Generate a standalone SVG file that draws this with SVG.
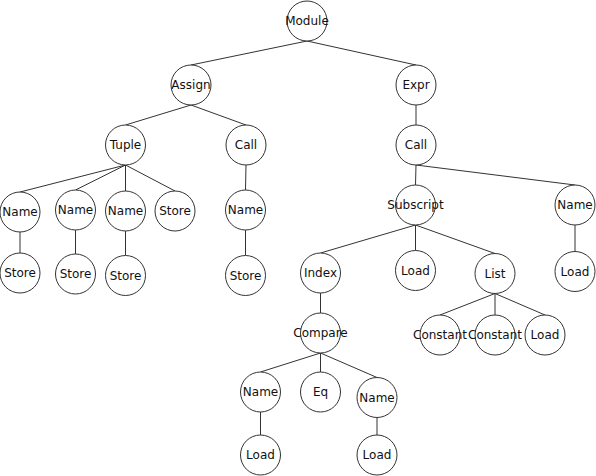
<svg xmlns="http://www.w3.org/2000/svg" width="596" height="476" viewBox="0 0 596 476">
<style>
.n circle{fill:#fff;stroke:#333;stroke-width:1}
.n text{font-family:"DejaVu Sans",sans-serif;font-size:12px;fill:#111;text-anchor:middle;dominant-baseline:central}
#edges line{stroke:#333;stroke-width:1}
</style>
<rect width="596" height="476" fill="#fff"/>
<g id="edges">
<line x1="307" y1="41" x2="191" y2="65"/>
<line x1="307" y1="41" x2="416" y2="65"/>
<line x1="191" y1="105" x2="125.5" y2="125"/>
<line x1="191" y1="105" x2="246" y2="125"/>
<line x1="416" y1="105" x2="416" y2="125"/>
<line x1="125.5" y1="165" x2="20" y2="192"/>
<line x1="125.5" y1="165" x2="75.5" y2="190"/>
<line x1="125.5" y1="165" x2="125.5" y2="191"/>
<line x1="125.5" y1="165" x2="175" y2="191"/>
<line x1="20" y1="232" x2="20" y2="253"/>
<line x1="75.5" y1="230" x2="75.5" y2="254"/>
<line x1="125.5" y1="231" x2="125.5" y2="255.5"/>
<line x1="246" y1="165" x2="245.5" y2="190"/>
<line x1="245.5" y1="230" x2="245.5" y2="255.5"/>
<line x1="416" y1="165" x2="415.5" y2="185"/>
<line x1="416" y1="165" x2="575" y2="185"/>
<line x1="415.5" y1="225" x2="320.5" y2="253"/>
<line x1="415.5" y1="225" x2="415.5" y2="250.5"/>
<line x1="415.5" y1="225" x2="495" y2="253.5"/>
<line x1="575" y1="225" x2="575" y2="251.5"/>
<line x1="320.5" y1="293" x2="320.5" y2="313"/>
<line x1="495" y1="293.5" x2="440" y2="315"/>
<line x1="495" y1="293.5" x2="495" y2="315"/>
<line x1="495" y1="293.5" x2="545" y2="315"/>
<line x1="320.5" y1="353" x2="260.5" y2="372"/>
<line x1="320.5" y1="353" x2="320.5" y2="372"/>
<line x1="320.5" y1="353" x2="377" y2="377.5"/>
<line x1="260.5" y1="412" x2="260.5" y2="435"/>
<line x1="377" y1="417.5" x2="377" y2="435"/>
</g>
<g id="module" class="n"><circle cx="307" cy="21" r="20"/><text x="307" y="21">Module</text></g>
<g id="assign" class="n"><circle cx="191" cy="85" r="20"/><text x="191" y="85">Assign</text></g>
<g id="expr" class="n"><circle cx="416" cy="85" r="20"/><text x="416" y="85">Expr</text></g>
<g id="tuple" class="n"><circle cx="125.5" cy="145" r="20"/><text x="125.5" y="145">Tuple</text></g>
<g id="call1" class="n"><circle cx="246" cy="145" r="20"/><text x="246" y="145">Call</text></g>
<g id="call2" class="n"><circle cx="416" cy="145" r="20"/><text x="416" y="145">Call</text></g>
<g id="name1" class="n"><circle cx="20" cy="212" r="20"/><text x="20" y="212">Name</text></g>
<g id="name2" class="n"><circle cx="75.5" cy="210" r="20"/><text x="75.5" y="210">Name</text></g>
<g id="name3" class="n"><circle cx="125.5" cy="211" r="20"/><text x="125.5" y="211">Name</text></g>
<g id="store4" class="n"><circle cx="175" cy="211" r="20"/><text x="175" y="211">Store</text></g>
<g id="store1" class="n"><circle cx="20" cy="273" r="20"/><text x="20" y="273">Store</text></g>
<g id="store2" class="n"><circle cx="75.5" cy="274" r="20"/><text x="75.5" y="274">Store</text></g>
<g id="store3" class="n"><circle cx="125.5" cy="275.5" r="20"/><text x="125.5" y="275.5">Store</text></g>
<g id="name4" class="n"><circle cx="245.5" cy="210" r="20"/><text x="245.5" y="210">Name</text></g>
<g id="store5" class="n"><circle cx="245.5" cy="275.5" r="20"/><text x="245.5" y="275.5">Store</text></g>
<g id="subscript" class="n"><circle cx="415.5" cy="205" r="20"/><text x="415.5" y="205">Subscript</text></g>
<g id="name5" class="n"><circle cx="575" cy="205" r="20"/><text x="575" y="205">Name</text></g>
<g id="load5" class="n"><circle cx="575" cy="271.5" r="20"/><text x="575" y="271.5">Load</text></g>
<g id="index" class="n"><circle cx="320.5" cy="273" r="20"/><text x="320.5" y="273">Index</text></g>
<g id="load1" class="n"><circle cx="415.5" cy="270.5" r="20"/><text x="415.5" y="270.5">Load</text></g>
<g id="list" class="n"><circle cx="495" cy="273.5" r="20"/><text x="495" y="273.5">List</text></g>
<g id="compare" class="n"><circle cx="320.5" cy="333" r="20"/><text x="320.5" y="333">Compare</text></g>
<g id="constant1" class="n"><circle cx="440" cy="335" r="20"/><text x="440" y="335">Constant</text></g>
<g id="constant2" class="n"><circle cx="495" cy="335" r="20"/><text x="495" y="335">Constant</text></g>
<g id="load2" class="n"><circle cx="545" cy="335" r="20"/><text x="545" y="335">Load</text></g>
<g id="name6" class="n"><circle cx="260.5" cy="392" r="20"/><text x="260.5" y="392">Name</text></g>
<g id="eq" class="n"><circle cx="320.5" cy="392" r="20"/><text x="320.5" y="392">Eq</text></g>
<g id="name7" class="n"><circle cx="377" cy="397.5" r="20"/><text x="377" y="397.5">Name</text></g>
<g id="load3" class="n"><circle cx="260.5" cy="455" r="20"/><text x="260.5" y="455">Load</text></g>
<g id="load4" class="n"><circle cx="377" cy="455" r="20"/><text x="377" y="455">Load</text></g>
</svg>
